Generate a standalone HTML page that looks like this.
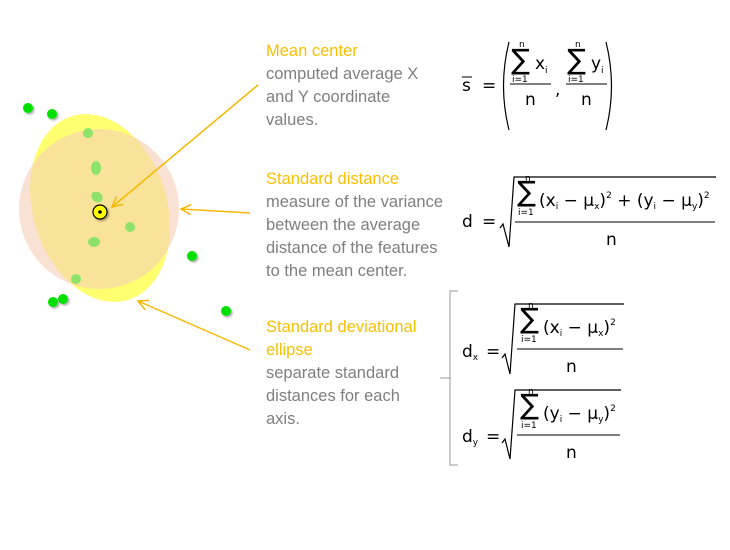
<!DOCTYPE html>
<html><head><meta charset="utf-8"><style>
html,body{margin:0;padding:0;background:#fff;width:730px;height:550px;overflow:hidden}
svg{display:block}
.h{fill:#f9bf00;font-family:"Liberation Sans",sans-serif;font-size:16.5px}
.t{fill:#7f7f7f;font-family:"Liberation Sans",sans-serif;font-size:16.5px}
.m{fill:#000;font-family:"DejaVu Sans","Liberation Sans",sans-serif;font-size:17px}
.s{font-size:9px}
.sum{font-size:28px}
</style></head><body>
<svg width="730" height="550" viewBox="0 0 730 550" xmlns="http://www.w3.org/2000/svg">
<defs>
<filter id="sh" x="-50%" y="-50%" width="200%" height="200%"><feDropShadow dx="1.5" dy="1.5" stdDeviation="1" flood-color="#000" flood-opacity="0.35"/></filter>
<marker id="ar" markerWidth="14" markerHeight="14" refX="11" refY="6" orient="auto" markerUnits="userSpaceOnUse"><path d="M1,1 L11,6 L1,11" fill="none" stroke="#f5b800" stroke-width="1.5"/></marker>
</defs>
<g fill="#00e000" filter="url(#sh)">
<circle cx="28" cy="108" r="5"/><circle cx="52" cy="114" r="5"/>
<circle cx="192" cy="256" r="5"/><circle cx="226" cy="311" r="5"/>
<circle cx="53" cy="302" r="5"/><circle cx="63" cy="299" r="5"/>
</g>
<ellipse cx="100" cy="208" rx="67" ry="96" transform="rotate(-17 100 208)" fill="#ffff70"/>
<ellipse cx="99" cy="209" rx="80" ry="80" fill="#f5cfb6" opacity="0.6"/>
<g fill="#8de36a">
<circle cx="88" cy="133" r="5"/><ellipse cx="96" cy="168" rx="5" ry="7"/>
<ellipse cx="97" cy="197" rx="6" ry="5" transform="rotate(40 97 197)"/>
<circle cx="130" cy="227" r="5"/><ellipse cx="94" cy="242" rx="6" ry="5"/>
<circle cx="76" cy="279" r="5"/>
</g>
<circle cx="100" cy="212" r="7" fill="#ffff00" stroke="#000" stroke-width="1.2" filter="url(#sh)"/>
<circle cx="100" cy="212" r="1.8" fill="#000"/>
<g stroke="#f5b800" stroke-width="1.5" fill="none">
<line x1="258" y1="85" x2="112" y2="207" marker-end="url(#ar)"/>
<line x1="250" y1="213" x2="181" y2="209" marker-end="url(#ar)"/>
<line x1="250" y1="350" x2="138" y2="301" marker-end="url(#ar)"/>
</g>
<text class="h" x="266" y="56">Mean center</text>
<text class="t" x="266" y="79">computed average X</text>
<text class="t" x="266" y="102">and Y coordinate</text>
<text class="t" x="266" y="125">values.</text>
<text class="h" x="266" y="184">Standard distance</text>
<text class="t" x="266" y="207">measure of the variance</text>
<text class="t" x="266" y="230">between the average</text>
<text class="t" x="266" y="253">distance of the features</text>
<text class="t" x="266" y="276">to the mean center.</text>
<text class="h" x="266" y="332">Standard deviational</text>
<text class="h" x="266" y="355">ellipse</text>
<text class="t" x="266" y="378">separate standard</text>
<text class="t" x="266" y="401">distances for each</text>
<text class="t" x="266" y="424">axis.</text>
<!-- formula 1 -->
<text class="m" x="462" y="91">s</text><line x1="462" y1="77" x2="472" y2="77" stroke="#000" stroke-width="1"/>
<text class="m" x="482" y="91">=</text>
<path d="M509,42 Q498,86 509,130" fill="none" stroke="#000" stroke-width="1.2"/>
<path d="M606,42 Q617,86 606,130" fill="none" stroke="#000" stroke-width="1.2"/>
<text class="m sum" x="511" y="69">∑</text><text class="m s" x="519" y="47">n</text><text class="m s" x="512" y="82">i=1</text>
<text class="m" x="535" y="69">x</text><text class="m s" x="545" y="73">i</text>
<line x1="510" y1="84" x2="551" y2="84" stroke="#000"/>
<text class="m" x="525" y="105">n</text>
<text class="m" x="555" y="95">,</text>
<text class="m sum" x="567" y="69">∑</text><text class="m s" x="575" y="47">n</text><text class="m s" x="568" y="82">i=1</text>
<text class="m" x="591" y="69">y</text><text class="m s" x="601" y="73">i</text>
<line x1="566" y1="84" x2="607" y2="84" stroke="#000"/>
<text class="m" x="581" y="105">n</text>
<!-- formula 2 -->
<text class="m" x="462" y="227">d</text><text class="m" x="482" y="227">=</text>
<path d="M500,228 L503,224 L509,247 L514,177 L716,177" fill="none" stroke="#000" stroke-width="1.2"/>
<text class="m sum" x="517" y="201">∑</text><text class="m s" x="525" y="181">n</text><text class="m s" x="518" y="215">i=1</text>
<text class="m" x="539" y="206">(x<tspan class="s" dy="3">i</tspan><tspan dy="-3"> − μ</tspan><tspan class="s" dy="3">x</tspan><tspan dy="-3">)</tspan><tspan class="s" dy="-8">2</tspan><tspan dy="8"> + (y</tspan><tspan class="s" dy="3">i</tspan><tspan dy="-3"> − μ</tspan><tspan class="s" dy="3">y</tspan><tspan dy="-3">)</tspan><tspan class="s" dy="-8">2</tspan></text>
<line x1="515" y1="222" x2="715" y2="222" stroke="#000"/>
<text class="m" x="606" y="245">n</text>
<path d="M458,291 L450,291 L450,465 L458,465 M450,378 L440,378" fill="none" stroke="#999" stroke-width="1"/>
<!-- dx -->
<text class="m" x="462" y="357">d<tspan class="s" dy="3">x</tspan></text><text class="m" x="486" y="357">=</text>
<path d="M502,358 L505,354 L510,374 L515,304 L624,304" fill="none" stroke="#000" stroke-width="1.2"/>
<text class="m sum" x="520" y="328">∑</text><text class="m s" x="528" y="308">n</text><text class="m s" x="521" y="342">i=1</text>
<text class="m" x="543" y="333">(x<tspan class="s" dy="3">i</tspan><tspan dy="-3"> − μ</tspan><tspan class="s" dy="3">x</tspan><tspan dy="-3">)</tspan><tspan class="s" dy="-8">2</tspan></text>
<line x1="517" y1="349" x2="623" y2="349" stroke="#000"/>
<text class="m" x="566" y="372">n</text>
<!-- dy -->
<text class="m" x="462" y="442">d<tspan class="s" dy="3">y</tspan></text><text class="m" x="486" y="442">=</text>
<path d="M502,443 L505,439 L510,459 L515,390 L621,390" fill="none" stroke="#000" stroke-width="1.2"/>
<text class="m sum" x="520" y="414">∑</text><text class="m s" x="528" y="394">n</text><text class="m s" x="521" y="428">i=1</text>
<text class="m" x="543" y="419">(y<tspan class="s" dy="3">i</tspan><tspan dy="-3"> − μ</tspan><tspan class="s" dy="3">y</tspan><tspan dy="-3">)</tspan><tspan class="s" dy="-8">2</tspan></text>
<line x1="517" y1="435" x2="620" y2="435" stroke="#000"/>
<text class="m" x="566" y="458">n</text>
</svg>
</body></html>
